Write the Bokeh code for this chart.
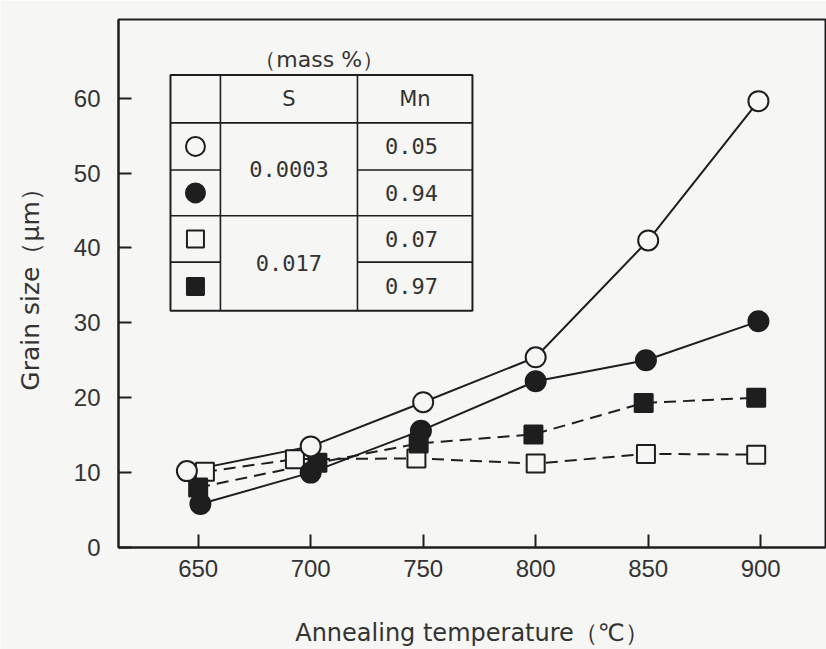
from bokeh.plotting import figure
from bokeh.models import Range1d, FixedTicker
from bokeh.core.properties import value
from bokeh.embed import file_html
from bokeh.resources import INLINE

# ---- data ----
temps_oc = [645, 700, 750, 800, 850, 899]
grain_oc = [10.2, 13.5, 19.4, 25.4, 41.0, 59.6]      # S 0.0003, Mn 0.05 (open circle)
temps_fc = [651, 700, 749, 800, 849, 899]
grain_fc = [5.8, 10.0, 15.6, 22.2, 25.0, 30.2]       # S 0.0003, Mn 0.94 (filled circle)
temps_os = [653, 693, 747, 800, 849, 898]
grain_os = [10.1, 11.8, 11.9, 11.2, 12.5, 12.4]      # S 0.017, Mn 0.07 (open square)
temps_fs = [650, 703, 748, 799, 848, 898]
grain_fs = [8.0, 11.3, 13.9, 15.1, 19.3, 20.0]       # S 0.017, Mn 0.97 (filled square)

x_ticks = [650, 700, 750, 800, 850, 900]
y_ticks = [0, 10, 20, 30, 40, 50, 60]

table_title = "（mass %）"
col_headers = ["S", "Mn"]
s_values = ["0.0003", "0.017"]
mn_values = ["0.05", "0.94", "0.07", "0.97"]

INK = "#1e1e1e"
BG = "#f6f6f4"
TXT = "#333333"
LABEL_FONT = "DejaVu Sans"
TICK_FONT = "Liberation Sans Narrow, Liberation Sans"
SANS = value("DejaVu Sans")
MONO = value("DejaVu Sans Mono")

p = figure(width=826, height=649, output_backend="svg", toolbar_location=None,
           x_range=Range1d(614.6, 928.8), y_range=Range1d(0, 70.5),
           min_border_left=118, min_border_right=1, min_border_top=19, min_border_bottom=102)
p.background_fill_color = BG
p.border_fill_color = BG
p.outline_line_color = INK
p.outline_line_width = 2
p.grid.visible = False

for ax in (p.xaxis[0], p.yaxis[0]):
    ax.axis_line_color = INK
    ax.axis_line_width = 2
    ax.major_tick_line_color = INK
    ax.major_tick_line_width = 2
    ax.major_tick_in = 13
    ax.major_tick_out = 0
    ax.minor_tick_line_color = None
    ax.major_label_text_font = TICK_FONT
    ax.major_label_text_font_size = "24px"
    ax.major_label_text_color = TXT
    ax.axis_label_text_font = LABEL_FONT
    ax.axis_label_text_font_style = "normal"
    ax.axis_label_text_color = TXT

p.xaxis.axis_label_text_font_size = "24px"
p.yaxis.axis_label_text_font_size = "25px"
p.xaxis.ticker = FixedTicker(ticks=x_ticks)
p.yaxis.ticker = FixedTicker(ticks=y_ticks)
p.xaxis.major_label_standoff = 12
p.yaxis.major_label_standoff = 18
p.xaxis.axis_label = "Annealing temperature（℃）"
p.yaxis.axis_label = "Grain size（μm）"
p.xaxis.axis_label_standoff = 39
p.yaxis.axis_label_standoff = 26

# ---- series ----
p.line(temps_oc, grain_oc, line_color=INK, line_width=2)
p.line(temps_fc, grain_fc, line_color=INK, line_width=2)
p.line(temps_os, grain_os, line_color=INK, line_width=2, line_dash="12 7")
p.line(temps_fs, grain_fs, line_color=INK, line_width=2, line_dash="12 7")

p.scatter(temps_os, grain_os, marker="square", size=18, fill_color=BG, line_color=INK, line_width=2)
p.scatter(temps_fs, grain_fs, marker="square", size=18, fill_color=INK, line_color=INK, line_width=2)
p.scatter(temps_fc, grain_fc, marker="circle", size=20, fill_color=INK, line_color=INK, line_width=2)
p.scatter(temps_oc, grain_oc, marker="circle", size=20, fill_color=BG, line_color=INK, line_width=2)

# ---- legend table (layout constants in data units) ----
tx0, tx1, tx2, tx3 = 637.7, 659.9, 720.8, 771.9
ty_top, ty_head, ty_r1, ty_r2, ty_r3, ty_bot = 63.1, 56.7, 50.4, 44.3, 38.1, 31.6
p.quad(left=[tx0], right=[tx3], bottom=[ty_bot], top=[ty_top], fill_color=BG,
       line_color=INK, line_width=2)
p.segment(x0=[tx1, tx2, tx0, tx0, tx0, tx2, tx2, tx0],
          y0=[ty_top, ty_top, ty_head, ty_r2, ty_r1, ty_r1, ty_r3, ty_r3],
          x1=[tx1, tx2, tx3, tx3, tx1, tx3, tx3, tx1],
          y1=[ty_bot, ty_bot, ty_head, ty_r2, ty_r1, ty_r1, ty_r3, ty_r3],
          line_color=INK, line_width=1.6)

row_y = [(ty_head + ty_r1) / 2, (ty_r1 + ty_r2) / 2, (ty_r2 + ty_r3) / 2, (ty_r3 + ty_bot) / 2]
c1 = (tx0 + tx1) / 2
c2 = (tx1 + tx2) / 2
c3 = (tx2 + tx3) / 2

p.text(x=[(tx0 + tx3) / 2 - 1], y=[ty_top + 2.1], text=[table_title], text_font=SANS,
       text_font_size="22px", text_color=TXT, text_align="center", text_baseline="middle")
p.text(x=[c2, c3], y=[(ty_top + ty_head) / 2] * 2, text=col_headers, text_font=SANS,
       text_font_size="21px", text_color=TXT, text_align="center", text_baseline="middle")
p.text(x=[c2, c2], y=[(ty_head + ty_r2) / 2, (ty_r2 + ty_bot) / 2], text=s_values, text_font=MONO,
       text_font_size="22px", text_color=TXT, text_align="center", text_baseline="middle")
p.text(x=[c3 - 1.5] * 4, y=row_y, text=mn_values, text_font=MONO,
       text_font_size="22px", text_color=TXT, text_align="center", text_baseline="middle")

p.scatter([c1], [row_y[0]], marker="circle", size=19, fill_color=BG, line_color=INK, line_width=2)
p.scatter([c1], [row_y[1]], marker="circle", size=19, fill_color=INK, line_color=INK, line_width=2)
p.scatter([c1], [row_y[2]], marker="square", size=17, fill_color=BG, line_color=INK, line_width=2)
p.scatter([c1], [row_y[3]], marker="square", size=17, fill_color=INK, line_color=INK, line_width=2)

open("out.html", "w").write(file_html(p, INLINE))
